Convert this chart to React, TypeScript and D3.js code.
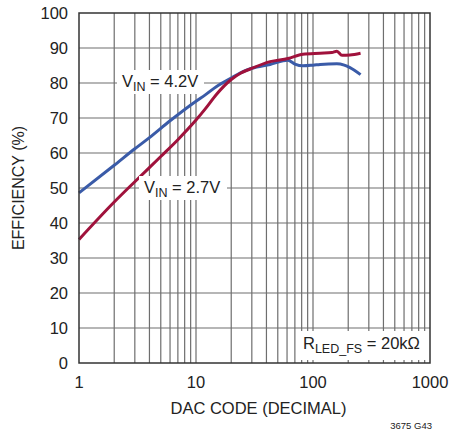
import React from "react";
import * as d3 from "d3";

const blueCodes = [1, 2, 3, 4, 6, 10, 12, 15, 20, 24, 30, 43, 61, 70, 82, 100, 115, 160, 185, 207, 255];
const blueEff = [48.6, 56.5, 61.2, 64.4, 69.2, 74.8, 76.6, 79.0, 81.4, 82.9, 84.2, 85.3, 86.5, 85.4, 84.9, 85.1, 85.3, 85.5, 85.1, 84.4, 82.4];

const redCodes = [1, 2, 3, 5, 7, 10, 12, 15, 20, 24, 29, 43, 61, 82, 115, 145, 160, 177, 207, 255];
const redEff = [35.3, 46.0, 51.8, 59.0, 63.8, 69.4, 72.6, 76.8, 81.0, 82.8, 84.0, 86.1, 87.0, 88.2, 88.5, 88.7, 89.1, 87.9, 88.0, 88.5];

const yTicks = [0, 10, 20, 30, 40, 50, 60, 70, 80, 90, 100];
const xTicks = [1, 10, 100, 1000];

const W = 449;
const H = 435;
const L = 79, R = 430, T = 13, B = 363;

const FONT = "'Liberation Sans', Arial, sans-serif";

export default function App() {
  const x = d3.scaleLog().domain([1, 1000]).range([L, R]);
  const y = d3.scaleLinear().domain([0, 100]).range([B, T]);

  const minor: number[] = [];
  for (const dec of [1, 10, 100]) {
    for (let k = 2; k <= 9; k++) minor.push(dec * k);
  }
  const vLines = [...minor, 10, 100];

  const line = d3
    .line<[number, number]>()
    .x((d) => x(d[0]))
    .y((d) => y(d[1]))
    .curve(d3.curveMonotoneX);

  const blue = line(blueCodes.map((c, i) => [c, blueEff[i]] as [number, number])) || "";
  const red = line(redCodes.map((c, i) => [c, redEff[i]] as [number, number])) || "";

  const gridColor = "#6e6e6e";

  return (
    <svg
      width={W}
      height={H}
      style={{ position: "absolute", left: 0, top: 0, background: "#fff" }}
      fontFamily={FONT}
    >
      {/* grid */}
      {yTicks.slice(1, -1).map((t) => (
        <line key={"h" + t} x1={L} x2={R} y1={y(t)} y2={y(t)} stroke={gridColor} strokeWidth={1.2} />
      ))}
      {vLines.map((v) => (
        <line key={"v" + v} x1={x(v)} x2={x(v)} y1={T} y2={B} stroke={gridColor} strokeWidth={1.2} />
      ))}

      {/* curves */}
      <path d={blue} fill="none" stroke="#3a5ba8" strokeWidth={3} strokeLinejoin="round" />
      <path d={red} fill="none" stroke="#a0123c" strokeWidth={3} strokeLinejoin="round" />

      {/* label boxes */}
      <rect x={117} y={70} width={87} height={24} fill="#fff" />
      <text x={122} y={87} fontSize={16.5} fill="#222">
        V<tspan fontSize={12.5} dy={4}>IN</tspan>
        <tspan dy={-4}> = 4.2V</tspan>
      </text>

      <rect x={139} y={176} width={88} height={24} fill="#fff" />
      <text x={144} y={193} fontSize={16.5} fill="#222">
        V<tspan fontSize={12.5} dy={4}>IN</tspan>
        <tspan dy={-4}> = 2.7V</tspan>
      </text>

      <rect x={298} y={331} width={131} height={29} fill="#fff" />
      <text x={303} y={349} fontSize={16.5} fill="#222">
        R<tspan fontSize={12.5} dy={4}>LED_FS</tspan>
        <tspan dy={-4}> = 20kΩ</tspan>
      </text>

      {/* frame */}
      <rect x={L} y={T} width={R - L} height={B - T} fill="none" stroke="#333" strokeWidth={1.5} />

      {/* y tick labels */}
      {yTicks.map((t) => (
        <text key={"yl" + t} x={68} y={y(t)} dy="0.36em" textAnchor="end" fontSize={16.5} fill="#222">
          {t}
        </text>
      ))}
      {/* x tick labels */}
      {xTicks.map((t) => (
        <text key={"xl" + t} x={x(t)} y={388} textAnchor="middle" fontSize={16.5} fill="#222">
          {t}
        </text>
      ))}

      {/* axis titles */}
      <text
        x={0}
        y={0}
        transform={`translate(24, ${(T + B) / 2}) rotate(-90)`}
        textAnchor="middle"
        fontSize={16}
        fill="#222"
      >
        EFFICIENCY (%)
      </text>
      <text x={(L + R) / 2 + 4} y={414} textAnchor="middle" fontSize={16.5} fill="#222">
        DAC CODE (DECIMAL)
      </text>
      <text x={432} y={429} textAnchor="end" fontSize={9.5} fill="#222">
        3675 G43
      </text>
    </svg>
  );
}
